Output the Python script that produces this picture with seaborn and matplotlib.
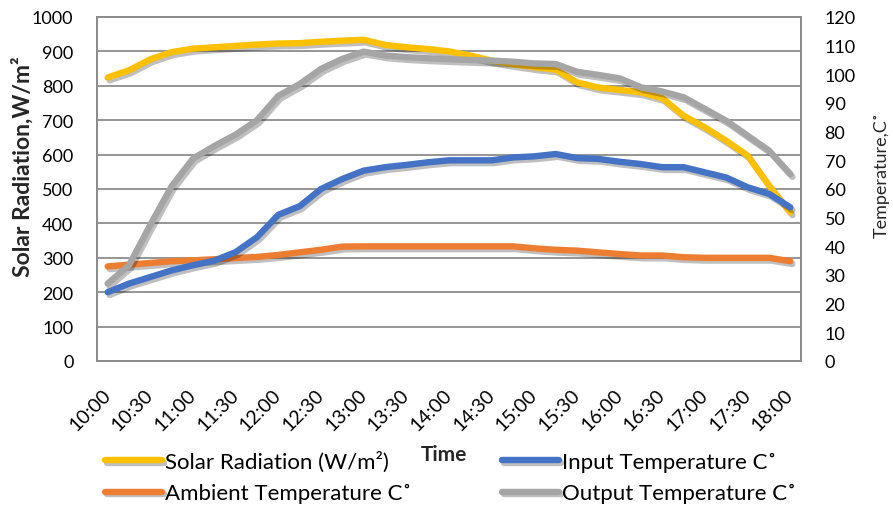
import matplotlib
matplotlib.use("Agg")
import matplotlib.pyplot as plt
import matplotlib.patheffects as pe
import seaborn as sns
import pandas as pd

# ---- data ----
times = ["10:00", "10:15", "10:30", "10:45", "11:00", "11:15", "11:30", "11:45",
         "12:00", "12:15", "12:30", "12:45", "13:00", "13:15", "13:30", "13:45",
         "14:00", "14:15", "14:30", "14:45", "15:00", "15:15", "15:30", "15:45",
         "16:00", "16:15", "16:30", "16:45", "17:00", "17:15", "17:30", "17:45",
         "18:00"]
solar = [824, 845, 877, 898, 908, 912, 916, 920, 923, 924, 928, 931, 934, 919,
         912, 907, 900, 888, 873, 863, 854, 847, 810, 795, 788, 781, 764, 713,
         679, 640, 597, 510, 432]
input_temp = [24, 27, 29.3, 31.6, 33.4, 35, 38, 43.2, 51, 54, 60, 63.5, 66.4,
              67.6, 68.4, 69.3, 70, 70, 70, 71, 71.4, 72.2, 70.8, 70.5, 69.5,
              68.7, 67.6, 67.6, 65.8, 64, 60.6, 58.3, 53.6]
ambient_temp = [33, 33.6, 34.2, 34.8, 35.1, 35.5, 35.9, 36.3, 37, 37.9, 38.8,
                39.9, 40, 40, 40, 40, 40, 40, 40, 40, 39.3, 38.8, 38.5, 37.9,
                37.3, 36.8, 36.8, 36.2, 36, 36, 36, 36, 34.8]
output_temp = [27, 33.4, 47.5, 61, 70.6, 75, 79, 84, 92.5, 96.6, 101.9, 105.4,
               107.9, 106.6, 106, 105.6, 105.3, 105, 104.8, 104.4, 103.8, 103.6,
               100.9, 99.8, 98.6, 95.5, 94, 92, 87.9, 83.8, 78.6, 73.4, 65.2]
tick_labels = times[::2]

df = pd.DataFrame({"Time": times, "solar": solar, "inp": input_temp,
                   "amb": ambient_temp, "out": output_temp})

sns.set_theme(style="white")
plt.rcParams["font.family"] = ["Lato", "DejaVu Sans"]

fig = plt.figure(figsize=(8.93, 5.06), dpi=100)
ax = fig.add_axes([97 / 893, 1 - 362 / 506, (801 - 97) / 893, (362 - 18) / 506])
ax2 = ax.twinx()

LW = 4.6
shadow = [pe.SimpleLineShadow(offset=(1.5, -2), shadow_color="black", alpha=0.25),
          pe.Normal()]

sns.lineplot(data=df, x="Time", y="solar", ax=ax, color="#FFC000", lw=LW,
             sort=False, label="Solar Radiation (W/m²)", legend=False)
sns.lineplot(data=df, x="Time", y="amb", ax=ax2, color="#ED7D31", lw=LW,
             sort=False, label="Ambient Temperature C˚", legend=False)
sns.lineplot(data=df, x="Time", y="out", ax=ax2, color="#A5A5A5", lw=LW,
             sort=False, label="Output Temperature C˚", legend=False)
sns.lineplot(data=df, x="Time", y="inp", ax=ax2, color="#4472C4", lw=LW,
             sort=False, label="Input Temperature C˚", legend=False)

for a in (ax, ax2):
    for ln in a.get_lines():
        ln.set_path_effects(shadow)
        ln.set_solid_capstyle("round")

n = len(times)
ax.set_xlim(-0.5, n - 0.5)
ax.set_ylim(0, 1000)
ax2.set_ylim(0, 120)
ax.set_yticks(range(0, 1001, 100))
ax2.set_yticks(range(0, 121, 10))
ax.set_xticks(range(0, n, 2))
ax.set_xticklabels(tick_labels, rotation=45, ha="right", va="center",
                   rotation_mode="anchor", fontsize=14, color="black")

ax.grid(axis="y", color="#8c8c8c", lw=1.3)
ax.grid(axis="x", visible=False)
for a in (ax, ax2):
    for s in a.spines.values():
        s.set_color("#8c8c8c")
        s.set_linewidth(1.3)
ax.tick_params(axis="y", length=0, pad=17, labelsize=13, labelcolor="black")
ax.tick_params(axis="x", length=0, pad=22)
ax2.tick_params(axis="y", length=0, pad=17, labelsize=13, labelcolor="black")
ax2.grid(False)

ax.set_xlabel("")
ax.set_ylabel("")
ax2.set_ylabel("")
fig.text(23 / 893, 1 - 167 / 506, "Solar Radiation,W/m²", fontsize=16.5,
         fontweight="bold", rotation=90, ha="center", va="center")
fig.text(882 / 893, 1 - 175 / 506, "Temperature,C˚", fontsize=13,
         rotation=90, ha="center", va="center")

fig.text(444 / 893, 1 - 455 / 506, "Time", fontsize=15, fontweight="bold",
         ha="center", va="center")

h1, l1 = ax.get_legend_handles_labels()
h2, l2 = ax2.get_legend_handles_labels()
hd = dict(zip(l1 + l2, h1 + h2))
order = ["Solar Radiation (W/m²)", "Ambient Temperature C˚",
         "Input Temperature C˚", "Output Temperature C˚"]
leg = fig.legend([hd[k] for k in order], order, ncol=2, frameon=False,
                 loc="upper left", bbox_to_anchor=(105 / 893, 1 - 452 / 506),
                 borderaxespad=0, borderpad=0,
                 fontsize=16, handlelength=2.57, handletextpad=0.14,
                 columnspacing=4.05, labelspacing=0.5)
for t in leg.get_texts():
    t.set_color("black")

fig.savefig("out.png", dpi=100)
